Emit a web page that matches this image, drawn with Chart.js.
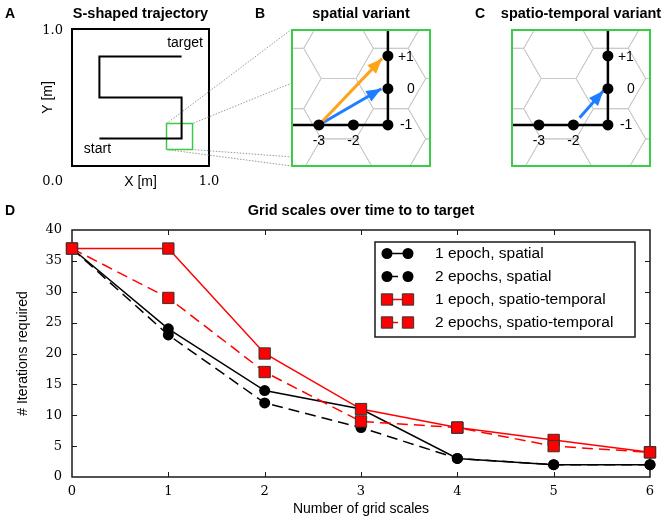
<!DOCTYPE html>
<html>
<head>
<meta charset="utf-8">
<title>Grid scales over time to to target</title>
<script src="https://cdn.jsdelivr.net/npm/chart.js@4/dist/chart.umd.min.js"></script>
<style>
  body { margin: 0; background: #fff; }
  #figure { position: relative; width: 664px; height: 522px; overflow: hidden; }
  #figure canvas { position: absolute; }
</style>
</head>
<body>
<div id="figure">
  <canvas id="panelA" width="300" height="195" style="left:0;top:0"></canvas>
  <canvas id="panelB" width="210" height="195" style="left:230px;top:0"></canvas>
  <canvas id="panelC" width="214" height="195" style="left:450px;top:0"></canvas>
  <canvas id="panelD" width="664" height="327" style="left:0;top:195px"></canvas>
</div>
<script>
// ---- panel D: iterations needed vs number of grid scales
const gridScales = [0, 1, 2, 3, 4, 5, 6];
const spatialOneEpoch = [37, 24, 14, 11, 3, 2, 2];
const spatialTwoEpochs = [37, 23, 12, 8, 3, 2, 2];
const spatioTemporalOneEpoch = [37, 37, 20, 11, 8, 6, 4];
const spatioTemporalTwoEpochs = [37, 29, 17, 9, 8, 5, 4];
const seriesLabels = ['1 epoch, spatial', '2 epochs, spatial', '1 epoch, spatio-temporal', '2 epochs, spatio-temporal'];

// ---- panel A: S-shaped path in the unit square
const trajectoryX = [0.2, 0.8, 0.8, 0.2, 0.2, 0.8];
const trajectoryY = [0.2, 0.2, 0.5, 0.5, 0.8, 0.8];
const zoomBoxX = [0.69, 0.88, 0.88, 0.69, 0.69];
const zoomBoxY = [0.12, 0.12, 0.31, 0.31, 0.12];
// dotted lines from zoom box to the left edge of panel B (x > 1 lies outside the square)
const connectorFromX = [0.69, 0.88, 0.69, 0.88];
const connectorFromY = [0.31, 0.31, 0.12, 0.12];
const connectorToX = [1.606, 1.606, 1.606, 1.606];
const connectorToY = [1.0, 0.606, 0.0, 0.066];

// ---- panels B / C: grid nodes, unit = node spacing, corner node at (0,0)
const nodeX = [-2, -1, 0, 0, 0];
const nodeY = [0, 0, 0, 1.05, 2];
const nodeLabels = ['-3', '-2', '-1', '0', '+1'];
const spatialArrowFrom = [[-2, 0], [-2, 0]];
const spatialArrowTo = [[-0.17, 1.92], [-0.19, 1.05]];
const temporalArrowFrom = [[-0.82, 0.21]];
const temporalArrowTo = [[-0.13, 0.99]];

const SANS = "'Liberation Sans', Arial, sans-serif";
const SERIF = "'DejaVu Serif', serif";
const GREEN = '#3ccb47';
const ORANGE = '#ffa31a';
const BLUE = '#1f7dff';
const HEX_ORIGIN = [-1.43, 0.47];
const HEX_SIZE = 1.01;

Chart.defaults.font.family = SANS;
Chart.defaults.color = '#000';

function pts(xs, ys) {
    return xs.map((x, i) => ({x: x, y: ys[i]}));
}

function text(ctx, str, x, y, font, align) {
    ctx.font = font;
    ctx.textAlign = align || 'center';
    ctx.textBaseline = 'middle';
    ctx.fillStyle = '#000';
    ctx.fillText(str, x, y);
}

const hiddenScale = (min, max) => ({type: 'linear', min: min, max: max, display: false});

// ---------------- panel A
const connectorPts = [];
connectorFromX.forEach((x, i) => {
    connectorPts.push({x: connectorToX[i], y: connectorToY[i]}, {x: x, y: connectorFromY[i]}, {x: x, y: null});
});

new Chart(document.getElementById('panelA'), {
    type: 'line',
    data: {
        datasets: [
            {data: pts(trajectoryX, trajectoryY), borderColor: '#000', borderWidth: 2, pointRadius: 0},
            {data: pts(zoomBoxX, zoomBoxY), borderColor: GREEN, borderWidth: 1.5, pointRadius: 0},
            {data: connectorPts, borderColor: '#999', borderWidth: 1, borderDash: [1.5, 1.5], pointRadius: 0, clip: false}
        ]
    },
    options: {
        responsive: false, animation: false, devicePixelRatio: 1,
        layout: {padding: {left: 72, top: 29, right: 91, bottom: 29}},
        plugins: {legend: {display: false}, tooltip: {enabled: false}},
        scales: {x: hiddenScale(0, 1), y: hiddenScale(0, 1)}
    },
    plugins: [{
        id: 'arenaFrame',
        beforeDatasetsDraw(chart) {
            const {ctx, chartArea: a, scales: {x, y}} = chart;
            ctx.save();
            ctx.strokeStyle = '#000';
            ctx.lineWidth = 2;
            ctx.strokeRect(a.left, a.top, a.width, a.height);
            text(ctx, 'A', 10, 14, 'bold 14px ' + SANS);
            text(ctx, 'S-shaped trajectory', (a.left + a.right) / 2, 14, 'bold 14.5px ' + SANS);
            text(ctx, '1.0', a.left - 9, y.getPixelForValue(1) + 2, '13px ' + SERIF, 'right');
            text(ctx, '0.0', a.left - 9, a.bottom + 16, '13px ' + SERIF, 'right');
            text(ctx, '1.0', x.getPixelForValue(1), a.bottom + 16, '13px ' + SERIF);
            text(ctx, 'X [m]', x.getPixelForValue(0.5), a.bottom + 16, '14px ' + SANS);
            text(ctx, 'target', x.getPixelForValue(0.825), y.getPixelForValue(0.9), '14px ' + SANS);
            text(ctx, 'start', x.getPixelForValue(0.186), y.getPixelForValue(0.124), '14px ' + SANS);
            ctx.translate(48, y.getPixelForValue(0.5));
            ctx.rotate(-Math.PI / 2);
            text(ctx, 'Y [m]', 0, 0, '14px ' + SANS);
            ctx.restore();
        }
    }]
});

// ---------------- panels B and C
function hexGrid(origin, size) {
    const out = [];
    const h = size * Math.sqrt(3);
    for (let k = -4; k <= 4; k++) {
        for (let m = -3; m <= 3; m++) {
            const cx = origin[0] + 1.5 * size * k;
            const cy = origin[1] + (Math.abs(k) % 2 ? h / 2 : 0) + m * h;
            for (let i = 0; i <= 6; i++) {
                const ang = Math.PI / 3 * i;
                out.push({x: cx + size * Math.cos(ang), y: cy + size * Math.sin(ang)});
            }
            out.push({x: cx, y: null});
        }
    }
    return out;
}

const nodeLabelOffsets = [[0, 16, 'center'], [0, 16, 'center'], [12, 0, 'left'], [19, 0, 'left'], [10, 1, 'left']];

function gridPanel(canvasId, letter, title, arrowFrom, arrowTo, arrowColors) {
    const arrowSets = arrowFrom.map((f, i) => ({
        data: [{x: f[0], y: f[1]}, {x: arrowTo[i][0], y: arrowTo[i][1]}],
        borderColor: arrowColors[i], borderWidth: 3, pointRadius: 0, arrow: true, order: 1
    }));
    new Chart(document.getElementById(canvasId), {
        type: 'line',
        data: {
            datasets: [
                {data: pts(nodeX, nodeY), showLine: false, pointRadius: 5.5, pointBackgroundColor: '#000', pointBorderWidth: 0, order: 0, clip: false},
                ...arrowSets,
                {data: [{x: -3, y: 0}, {x: 0, y: 0}, {x: 0, y: 3}], borderColor: '#000', borderWidth: 2.5, pointRadius: 0, order: 2},
                {data: hexGrid(HEX_ORIGIN, HEX_SIZE), borderColor: '#c9c9c9', borderWidth: 1, pointRadius: 0, order: 3}
            ]
        },
        options: {
            responsive: false, animation: false, devicePixelRatio: 1,
            layout: {padding: {left: 62, top: 30, right: document.getElementById(canvasId).width - 200, bottom: 29}},
            plugins: {legend: {display: false}, tooltip: {enabled: false}},
            scales: {x: hiddenScale(-2.78, 1.22), y: hiddenScale(-1.19, 2.75)}
        },
        plugins: [{
            id: 'gridPanelDecor',
            afterDatasetsDraw(chart) {
                const {ctx, chartArea: a, scales: {x, y}} = chart;
                ctx.save();
                chart.data.datasets.forEach((ds, i) => {
                    if (!ds.arrow) return;
                    const p = chart.getDatasetMeta(i).data;
                    const tip = p[p.length - 1], base = p[p.length - 2];
                    const ang = Math.atan2(tip.y - base.y, tip.x - base.x);
                    ctx.fillStyle = ds.borderColor;
                    ctx.beginPath();
                    ctx.moveTo(tip.x, tip.y);
                    ctx.lineTo(tip.x - 15 * Math.cos(ang) + 6 * Math.sin(ang), tip.y - 15 * Math.sin(ang) - 6 * Math.cos(ang));
                    ctx.lineTo(tip.x - 15 * Math.cos(ang) - 6 * Math.sin(ang), tip.y - 15 * Math.sin(ang) + 6 * Math.cos(ang));
                    ctx.closePath();
                    ctx.fill();
                });
                ctx.strokeStyle = GREEN;
                ctx.lineWidth = 2;
                ctx.strokeRect(a.left, a.top, a.width, a.height);
                nodeLabels.forEach((lab, i) => {
                    const o = nodeLabelOffsets[i];
                    text(ctx, lab, x.getPixelForValue(nodeX[i]) + o[0], y.getPixelForValue(nodeY[i]) + o[1], '14px ' + SANS, o[2]);
                });
                text(ctx, letter, a.left - 32, 14, 'bold 14px ' + SANS);
                text(ctx, title, (a.left + a.right) / 2, 14, 'bold 14.5px ' + SANS);
                ctx.restore();
            }
        }]
    });
}

gridPanel('panelB', 'B', 'spatial variant', spatialArrowFrom, spatialArrowTo, [ORANGE, BLUE]);
gridPanel('panelC', 'C', 'spatio-temporal variant', temporalArrowFrom, temporalArrowTo, [BLUE]);

// ---------------- panel D
const seriesValues = [spatialOneEpoch, spatialTwoEpochs, spatioTemporalOneEpoch, spatioTemporalTwoEpochs];
const seriesStyles = [
    {color: '#000', edge: '#000', dash: [], point: 'circle', radius: 5.5},
    {color: '#000', edge: '#000', dash: [11, 6], point: 'circle', radius: 5.5},
    {color: '#ff0000', edge: '#333', dash: [], point: 'rect', radius: 8},
    {color: '#ff0000', edge: '#333', dash: [11, 6], point: 'rect', radius: 8}
];

function drawMarker(ctx, style, x, y) {
    ctx.fillStyle = style.color;
    ctx.strokeStyle = style.edge;
    ctx.lineWidth = 1;
    ctx.setLineDash([]);
    ctx.beginPath();
    if (style.point === 'circle') {
        ctx.arc(x, y, style.radius, 0, Math.PI * 2);
        ctx.fill();
    } else {
        const s = style.radius * Math.SQRT1_2;
        ctx.rect(x - s, y - s, 2 * s, 2 * s);
        ctx.fill();
        ctx.stroke();
    }
}

const plotDecor = {
    id: 'plotDecor',
    beforeDatasetsDraw(chart) {
        const {ctx, chartArea: a, scales: {x, y}} = chart;
        ctx.save();
        ctx.strokeStyle = '#1a1a1a';
        ctx.lineWidth = 1.5;
        ctx.strokeRect(a.left, a.top, a.width, a.height);
        ctx.lineWidth = 1;
        ctx.beginPath();
        x.ticks.forEach(t => {
            if (t.value <= x.min || t.value >= x.max) return;
            const px = Math.round(x.getPixelForValue(t.value)) + 0.5;
            ctx.moveTo(px, a.bottom); ctx.lineTo(px, a.bottom - 5);
            ctx.moveTo(px, a.top); ctx.lineTo(px, a.top + 5);
        });
        y.ticks.forEach(t => {
            if (t.value <= y.min || t.value >= y.max) return;
            const py = Math.round(y.getPixelForValue(t.value)) + 0.5;
            ctx.moveTo(a.left, py); ctx.lineTo(a.left + 5, py);
            ctx.moveTo(a.right, py); ctx.lineTo(a.right - 5, py);
        });
        ctx.stroke();
        text(ctx, 'D', 10, 16, 'bold 14px ' + SANS);
        text(ctx, 'Grid scales over time to to target', (a.left + a.right) / 2, 16, 'bold 14.5px ' + SANS);
        ctx.restore();
    },
    afterDatasetsDraw(chart) {
        const {ctx, chartArea: a} = chart;
        const w = 260, rowH = 23;
        const left = a.right - 15 - w, top = a.top + 12;
        const h = rowH * chart.data.datasets.length + 3;
        ctx.save();
        ctx.fillStyle = '#fff';
        ctx.fillRect(left, top, w, h);
        ctx.strokeStyle = '#1a1a1a';
        ctx.lineWidth = 1.5;
        ctx.strokeRect(left, top, w, h);
        chart.data.datasets.forEach((ds, i) => {
            const st = seriesStyles[i];
            const yy = top + 11.5 + i * rowH;
            ctx.strokeStyle = st.color;
            ctx.lineWidth = 1.5;
            ctx.setLineDash(st.dash);
            ctx.beginPath();
            ctx.moveTo(left + 12, yy);
            ctx.lineTo(left + 33, yy);
            ctx.stroke();
            drawMarker(ctx, st, left + 12, yy);
            drawMarker(ctx, st, left + 33, yy);
            text(ctx, ds.label, left + 60, yy, '15.5px ' + SANS, 'left');
        });
        ctx.restore();
    }
};

new Chart(document.getElementById('panelD'), {
    type: 'line',
    data: {
        datasets: seriesValues.map((vals, i) => ({
            label: seriesLabels[i],
            data: pts(gridScales, vals),
            borderColor: seriesStyles[i].color,
            borderWidth: 1.5,
            borderDash: seriesStyles[i].dash,
            pointStyle: seriesStyles[i].point,
            pointRadius: seriesStyles[i].radius,
            pointBackgroundColor: seriesStyles[i].color,
            pointBorderColor: seriesStyles[i].edge,
            pointBorderWidth: seriesStyles[i].point === 'rect' ? 1 : 0,
            clip: false,
            order: 4 - i
        }))
    },
    options: {
        responsive: false, animation: false, devicePixelRatio: 1,
        layout: {padding: {left: 0, top: 35, right: 14, bottom: 0}},
        plugins: {legend: {display: false}, tooltip: {enabled: false}},
        scales: {
            x: {
                type: 'linear', min: 0, max: 6,
                ticks: {stepSize: 1, padding: 7, font: {family: SERIF, size: 13}, color: '#000'},
                grid: {drawOnChartArea: false, drawTicks: false},
                border: {display: false},
                title: {display: true, text: 'Number of grid scales', font: {size: 14}, color: '#000', padding: {top: 0, bottom: 4.6}},
                afterFit(scale) { scale.height = 45; }
            },
            y: {
                type: 'linear', min: 0, max: 40,
                ticks: {stepSize: 5, padding: 10, font: {family: SERIF, size: 13}, color: '#000'},
                grid: {drawOnChartArea: false, drawTicks: false},
                border: {display: false},
                title: {display: true, text: '# Iterations required', font: {size: 14}, color: '#000', padding: {top: 14.6, bottom: 0}},
                afterFit(scale) { scale.width = 72; }
            }
        }
    },
    plugins: [plotDecor]
});
</script>
</body>
</html>
